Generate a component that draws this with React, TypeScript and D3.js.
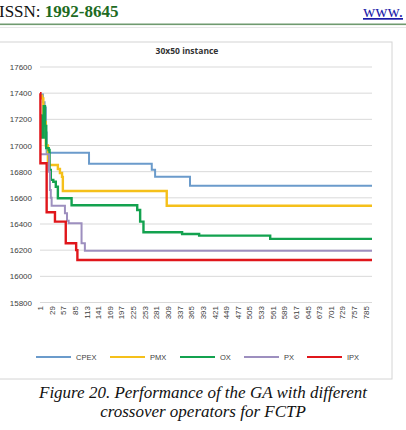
import React, { useRef, useEffect } from 'react'
import { select, scaleLinear, line, curveStepAfter } from 'd3'

// generation labels along the x axis (every 28th generation)
const genTicks = [1, 29, 57, 85, 113, 141, 169, 197, 225, 253, 281, 309, 337, 365, 393, 421, 449, 477, 505, 533, 561, 589, 617, 645, 673, 701, 729, 757, 785]
const costTicks = [17600, 17400, 17200, 17000, 16800, 16600, 16400, 16200, 16000, 15800]
const lastGen = 800

// best cost per generation, stored as change points (generation, cost)
const cpexGen = [1, 8, 12, 15, 17, 119, 270, 278, 362]
const cpexVal = [17390, 17330, 17290, 17100, 16945, 16861, 16815, 16762, 16693]

const pmxGen = [1, 6, 9, 12, 15, 20, 23, 44, 49, 54, 56, 306]
const pmxVal = [17380, 17360, 17250, 17180, 17000, 16880, 16851, 16820, 16790, 16760, 16652, 16540]

const oxGen = [1, 5, 10, 13, 16, 22, 24, 27, 33, 39, 44, 77, 235, 242, 250, 343, 384, 555]
const oxVal = [17230, 17060, 17300, 17150, 16980, 16966, 16813, 16737, 16723, 16685, 16597, 16543, 16507, 16418, 16337, 16324, 16311, 16286]

const pxGen = [1, 23, 25, 27, 29, 61, 66, 70, 101, 109]
const pxVal = [16933, 16800, 16660, 16600, 16540, 16482, 16425, 16405, 16253, 16196]

const ipxGen = [1, 2, 17, 37, 63, 88, 91]
const ipxVal = [17400, 16864, 16490, 16418, 16253, 16200, 16125]

const seriesNames = ['CPEX', 'PMX', 'OX', 'PX', 'IPX']
const seriesGens = [cpexGen, pmxGen, oxGen, pxGen, ipxGen]
const seriesVals = [cpexVal, pmxVal, oxVal, pxVal, ipxVal]
const seriesColors = ['#6b9bcb', '#f5c01a', '#13a24f', '#9d8fbf', '#e0161b']
const seriesWidths = [2, 2.4, 2.4, 2, 2.4]

const legendX = [36, 110, 180, 244, 307]

const App = () => {
    const svgRef = useRef(null)

    useEffect(() => {
        const svg = select(svgRef.current)
        svg.selectAll('*').remove()

        const x = scaleLinear().domain([1, lastGen]).range([40, 372])
        const y = scaleLinear().domain([15800, 17600]).range([302.5, 67])

        // page header
        const head = svg.append('g').attr('font-family', '"Liberation Serif", serif')
        const issn = head.append('text').attr('x', -1).attr('y', 17).attr('font-size', 17)
        issn.append('tspan').attr('fill', '#111').text('ISSN: ')
        issn.append('tspan').attr('fill', '#1e6b23').attr('font-weight', 'bold').text('1992-8645')
        head.append('text').attr('x', 363).attr('y', 17).attr('font-size', 17)
            .attr('fill', '#1a1aa8').attr('text-decoration', 'underline').text('www.')
        head.append('rect').attr('x', 0).attr('y', 23.5).attr('width', 406).attr('height', 1.6).attr('fill', '#6f9a6f')
        head.append('rect').attr('x', 0).attr('y', 27).attr('width', 406).attr('height', 0.8).attr('fill', '#e2e2e2')

        // chart frame
        svg.append('rect').attr('x', -16).attr('y', 42).attr('width', 408).attr('height', 337)
            .attr('fill', '#fff').attr('stroke', '#d4d4d4').attr('stroke-width', 1)

        svg.append('text').attr('x', 187).attr('y', 54).attr('text-anchor', 'middle')
            .attr('font-family', '"Open Sans", sans-serif').attr('font-size', 8.5)
            .attr('font-weight', 'bold').attr('fill', '#333').text('30x50 instance')

        // gridlines + y labels
        const grid = svg.append('g')
        grid.selectAll('line').data(costTicks).join('line')
            .attr('x1', 40).attr('x2', 372)
            .attr('y1', d => y(d)).attr('y2', d => y(d))
            .attr('stroke', '#d9d9d9').attr('stroke-width', 1)
        grid.selectAll('text').data(costTicks).join('text')
            .attr('x', 32).attr('y', d => y(d) + 3)
            .attr('text-anchor', 'end')
            .attr('font-family', '"Liberation Sans", sans-serif').attr('font-size', 8)
            .attr('fill', '#404040')
            .text(d => d)

        // rotated generation labels
        svg.append('g').selectAll('text').data(genTicks).join('text')
            .attr('transform', d => `translate(${x(d) + 3},306) rotate(-90)`)
            .attr('text-anchor', 'end')
            .attr('font-family', '"Liberation Sans", sans-serif').attr('font-size', 8)
            .attr('fill', '#404040')
            .text(d => d)

        // series lines
        const path = line().x(d => x(d[0])).y(d => y(d[1])).curve(curveStepAfter)
        seriesNames.forEach((name, i) => {
            const gens = seriesGens[i]
            const vals = seriesVals[i]
            const pts = gens.map((g, j) => [g, vals[j]])
            pts.push([lastGen, vals[vals.length - 1]])
            svg.append('path')
                .attr('d', path(pts))
                .attr('fill', 'none')
                .attr('stroke', seriesColors[i])
                .attr('stroke-width', seriesWidths[i])
        })

        // legend
        const legend = svg.append('g')
        seriesNames.forEach((name, i) => {
            legend.append('line')
                .attr('x1', legendX[i]).attr('x2', legendX[i] + 35)
                .attr('y1', 357).attr('y2', 357)
                .attr('stroke', seriesColors[i]).attr('stroke-width', 2)
            legend.append('text')
                .attr('x', legendX[i] + 40).attr('y', 360)
                .attr('font-family', '"Liberation Sans", sans-serif').attr('font-size', 7.5)
                .attr('fill', '#404040').text(name)
        })

        // figure caption
        const cap = svg.append('g').attr('font-family', '"Liberation Serif", serif')
            .attr('font-style', 'italic').attr('font-size', 17).attr('fill', '#111')
            .attr('text-anchor', 'middle')
        cap.append('text').attr('x', 203).attr('y', 398).text('Figure 20. Performance of the GA with different')
        cap.append('text').attr('x', 203).attr('y', 417).text('crossover operators for FCTP')
    }, [])

    return (
        <svg ref={svgRef} width={406} height={430}
            style={{ position: 'absolute', left: 0, top: 0, background: '#fff' }} />
    )
}

export default App
